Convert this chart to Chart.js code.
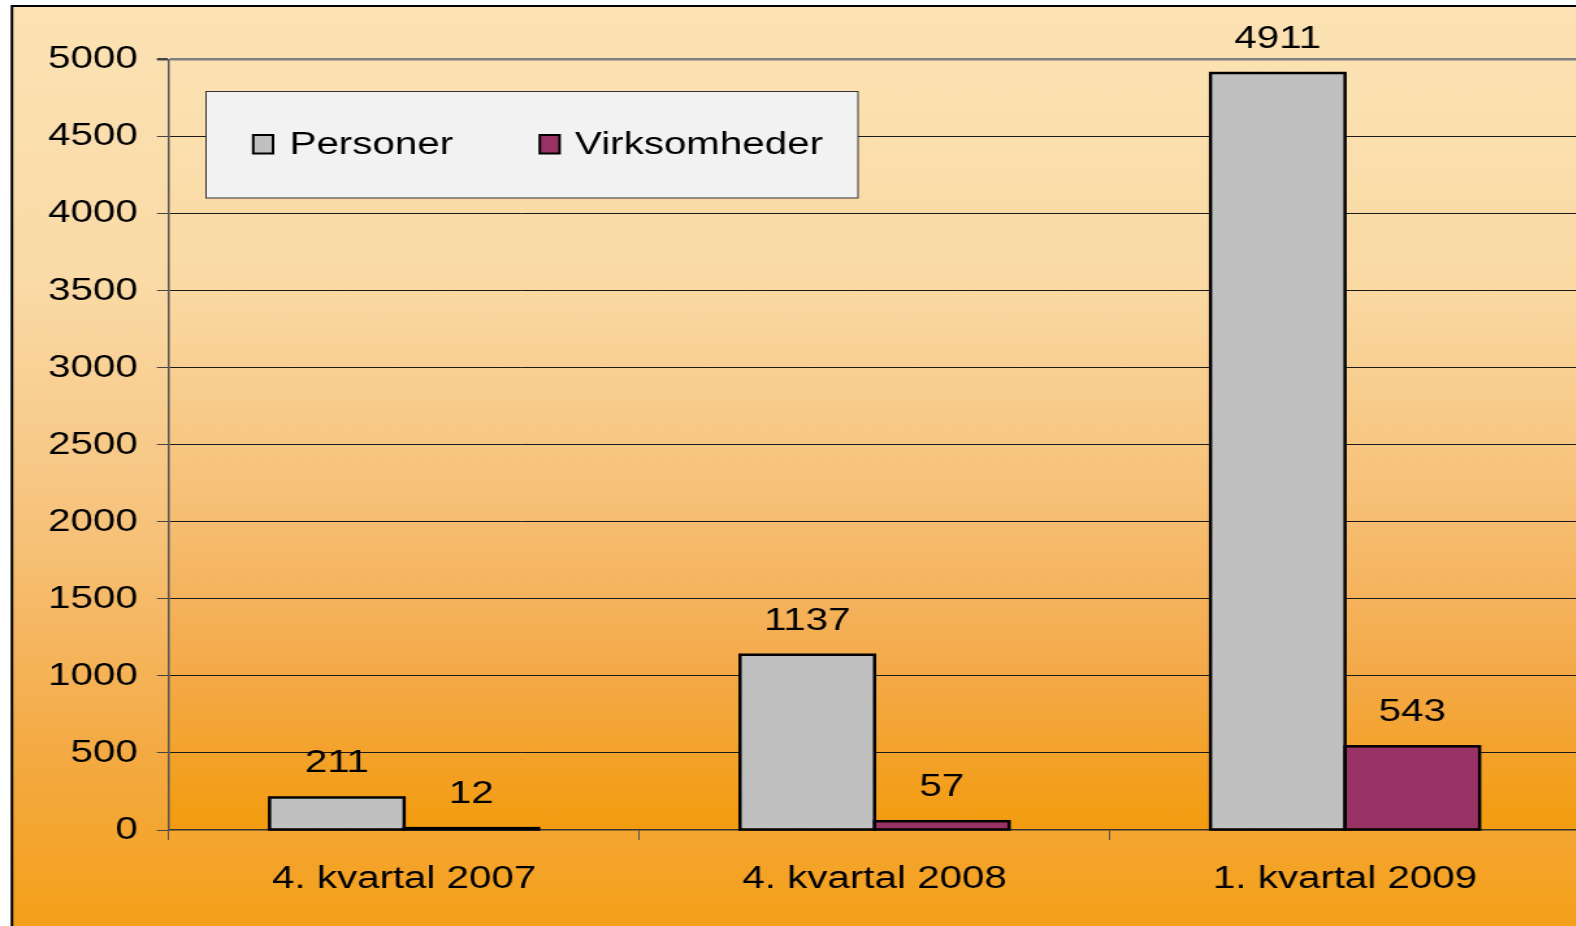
<!DOCTYPE html>
<html>
<head>
<meta charset="utf-8">
<script src="https://cdn.jsdelivr.net/npm/chart.js@4/dist/chart.umd.min.js"></script>
<style>
  html, body { margin: 0; padding: 0; width: 1576px; height: 926px; overflow: hidden; background: #ffffff; }
  #wrap { position: absolute; left: 0; top: 0; width: 1216px; height: 926px; transform: scaleX(1.3); transform-origin: 0 0; }
  canvas { display: block; }
</style>
</head>
<body>
<div id="wrap"><canvas id="c" width="1216" height="926"></canvas></div>
<script>
// ---- data ----
const categories = ['4. kvartal 2007', '4. kvartal 2008', '1. kvartal 2009'];
const seriesNames = ['Personer', 'Virksomheder'];
const personer = [211, 1137, 4911];
const virksomheder = [12, 57, 543];
const yTicks = [0, 500, 1000, 1500, 2000, 2500, 3000, 3500, 4000, 4500, 5000];

const FONT = '"Liberation Sans", Arial, Helvetica, sans-serif';
const FS = 31;

const bgPlugin = {
  id: 'bg',
  beforeDraw(chart) {
    const ctx = chart.ctx, W = chart.width, H = chart.height;
    const a = chart.chartArea;
    ctx.save();
    ctx.fillStyle = '#ffffff';
    ctx.fillRect(0, 0, W, H);
    const fl = 9.2, ft = 6;
    let g = ctx.createLinearGradient(0, ft, 0, H);
    g.addColorStop(0, '#FCE2B4');
    g.addColorStop(0.3, '#FADAA6');
    g.addColorStop(0.55, '#F7C47E');
    g.addColorStop(0.8, '#F4AB46');
    g.addColorStop(1, '#F4A01A');
    ctx.fillStyle = g;
    ctx.fillRect(fl, ft, W - fl, H - ft);
    g = ctx.createLinearGradient(0, a.top, 0, a.bottom);
    g.addColorStop(0, '#FCE2B3');
    g.addColorStop(0.3, '#FAD9A3');
    g.addColorStop(0.55, '#F7C27A');
    g.addColorStop(0.8, '#F4A948');
    g.addColorStop(1, '#F39C0E');
    ctx.fillStyle = g;
    ctx.fillRect(a.left, a.top, a.right - a.left, a.bottom - a.top);
    ctx.strokeStyle = '#000000';
    ctx.lineWidth = 2;
    ctx.beginPath();
    ctx.moveTo(fl, H);
    ctx.lineTo(fl, ft);
    ctx.lineTo(W, ft);
    ctx.stroke();
    ctx.restore();
  }
};

const overlayPlugin = {
  id: 'overlay',
  afterDatasetsDraw(chart) {
    const ctx = chart.ctx;
    ctx.save();
    // bar outlines (centered on the bar edges)
    ctx.strokeStyle = '#000000';
    ctx.lineWidth = 2.5;
    chart.data.datasets.forEach((ds, di) => {
      const meta = chart.getDatasetMeta(di);
      meta.data.forEach((el) => {
        const p = el.getProps(['x', 'y', 'base', 'width'], true);
        ctx.strokeRect(p.x - p.width / 2, p.y, p.width, p.base - p.y);
      });
    });
    // value labels
    ctx.font = FS + 'px ' + FONT;
    ctx.fillStyle = '#000000';
    ctx.textAlign = 'center';
    ctx.textBaseline = 'alphabetic';
    chart.data.datasets.forEach((ds, di) => {
      const meta = chart.getDatasetMeta(di);
      meta.data.forEach((el, i) => {
        ctx.fillText(String(ds.data[i]), el.x, el.y - 25);
      });
    });
    // legend box
    const bx = 158.5, by = 91.5, bw = 501.5, bh = 106.5;
    ctx.fillStyle = '#F1F2F1';
    ctx.fillRect(bx, by, bw, bh);
    ctx.strokeStyle = '#333333';
    ctx.lineWidth = 1;
    ctx.strokeRect(bx, by, bw, bh);
    const sq = [194.8, 415.2];
    const tx = [222.7, 442.3];
    ctx.textAlign = 'left';
    chart.data.datasets.forEach((ds, di) => {
      ctx.fillStyle = ds.backgroundColor;
      ctx.fillRect(sq[di], 135, 15.2, 18.5);
      ctx.strokeStyle = '#000000';
      ctx.lineWidth = 2;
      ctx.strokeRect(sq[di], 135, 15.2, 18.5);
      ctx.fillStyle = '#000000';
      ctx.fillText(ds.label, tx[di], 154);
    });
    ctx.restore();
  }
};

new Chart(document.getElementById('c'), {
  type: 'bar',
  data: {
    labels: categories,
    datasets: [
      { label: seriesNames[0], data: personer, backgroundColor: '#C0C0C0', borderWidth: 0 },
      { label: seriesNames[1], data: virksomheder, backgroundColor: '#993366', borderWidth: 0 }
    ]
  },
  options: {
    responsive: false,
    animation: false,
    devicePixelRatio: 1,
    layout: { padding: { left: 0, top: 59.3, right: 0.4, bottom: 0 } },
    datasets: { bar: { barPercentage: 1, categoryPercentage: 0.572 } },
    plugins: { legend: { display: false }, tooltip: { enabled: false } },
    scales: {
      x: {
        grid: { display: true, drawOnChartArea: false, drawTicks: true, tickLength: 10, color: '#555555', offset: true },
        border: { display: true, color: '#333333', width: 1.5 },
        ticks: { color: '#000000', font: { family: FONT, size: FS }, padding: 20.5, maxRotation: 0 },
        afterFit(scale) { scale.height = 96; }
      },
      y: {
        min: 0, max: 5000,
        afterBuildTicks(scale) { scale.ticks = yTicks.map(v => ({ value: v })); },
        grid: {
          color: (c) => (c.tick && c.tick.value === 5000) ? '#808080' : (c.tick && c.tick.value === 0 ? 'rgba(0,0,0,0)' : '#1a1a1a'),
          lineWidth: (c) => (c.tick && c.tick.value === 5000) ? 2.5 : 1,
          tickColor: '#444444',
          tickLength: 9.2,
          drawTicks: true
        },
        border: { display: true, color: '#555555', width: 1.5 },
        ticks: { color: '#000000', font: { family: FONT, size: FS }, padding: 14.8, labelOffset: 0.5, callback: (v) => String(v) },
        afterFit(scale) { scale.width = 129.9; }
      }
    }
  },
  plugins: [bgPlugin, overlayPlugin]
});
</script>
</body>
</html>
